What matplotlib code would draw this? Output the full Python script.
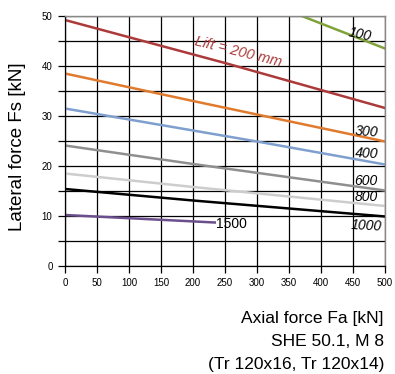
import matplotlib
matplotlib.use("Agg")
import matplotlib.pyplot as plt

plt.rcParams['font.family'] = ['Liberation Sans', 'DejaVu Sans']

# Data (axial force kN -> lateral force kN)
x_100 = [370, 500]
y_100 = [50.0, 43.5]
x_200 = [0, 250, 500]
y_200 = [49.2, 40.6, 31.6]
x_300 = [0, 200, 500]
y_300 = [38.5, 33.0, 24.9]
x_400 = [0, 300, 500]
y_400 = [31.5, 24.9, 20.3]
x_600 = [0, 200, 500]
y_600 = [24.1, 20.4, 15.1]
x_800 = [0, 200, 500]
y_800 = [18.5, 15.8, 12.0]
x_1000 = [0, 200, 500]
y_1000 = [15.4, 13.1, 9.9]
x_1500 = [0, 234]
y_1500 = [10.2, 8.7]

x_ticks = [0, 50, 100, 150, 200, 250, 300, 350, 400, 450, 500]
y_ticks = [0, 10, 20, 30, 40, 50]

fig = plt.figure(figsize=(3.95, 3.74), dpi=100)
ax = fig.add_axes([0.1646, 0.2888, 0.9747 - 0.1646, 0.9572 - 0.2888])
ax.set_xlim(0, 500)
ax.set_ylim(0, 50)

ax.set_xticks(x_ticks)
ax.set_yticks(y_ticks)
ax.set_yticks([5, 15, 25, 35, 45], minor=True)
ax.tick_params(axis='both', which='both', direction='out', length=5, width=0.9,
               color='black', labelsize=7, pad=4)
ax.grid(True, which='both', color='black', linewidth=0.9)
for s in ['top', 'right']:
    ax.spines[s].set_color('#888888')
    ax.spines[s].set_linewidth(1.0)
for s in ['left', 'bottom']:
    ax.spines[s].set_color('black')
    ax.spines[s].set_linewidth(0.9)

lw = 1.8
ax.plot(x_100, y_100, color='#7fa23a', lw=lw)
ax.plot(x_200, y_200, color='#ad3a3a', lw=lw)
ax.plot(x_300, y_300, color='#e07a2e', lw=lw)
ax.plot(x_400, y_400, color='#7f9fce', lw=lw)
ax.plot(x_600, y_600, color='#8f8f8f', lw=lw)
ax.plot(x_800, y_800, color='#cdcdcd', lw=lw)
ax.plot(x_1000, y_1000, color='black', lw=lw)
ax.plot(x_1500, y_1500, color='#6b4f8c', lw=lw)

lab = dict(fontsize=10, style='italic', color='black', ha='left', va='center')
ax.text(441, 46.4, '100', rotation=-12, **lab)
ax.text(452, 26.9, '300', rotation=-4, **lab)
ax.text(452, 22.4, '400', rotation=-3, **lab)
ax.text(452, 17.0, '600', **lab)
ax.text(452, 13.7, '800', **lab)
ax.text(446, 8.0, '1000', rotation=-3, **lab)
ax.text(236, 8.3, '1500', fontsize=10, color='black', ha='left', va='center')
ax.text(270, 42.8, 'Lift = 200 mm', rotation=-14, fontsize=10.5, style='italic',
        color='#ad3a3a', ha='center', va='center')

fig.text(0.045, 0.607, 'Lateral force Fs [kN]', rotation=90, fontsize=13.5,
         ha='center', va='center')

cond = dict(fontsize=12.5, ha='right', va='center')
fig.text(0.972, 1 - 318 / 374, 'Axial force Fa [kN]', **cond)
fig.text(0.972, 1 - 342 / 374, 'SHE 50.1, M 8', **cond)
fig.text(0.972, 1 - 365 / 374, '(Tr 120x16, Tr 120x14)', **cond)

fig.savefig('out.png', dpi=100)
